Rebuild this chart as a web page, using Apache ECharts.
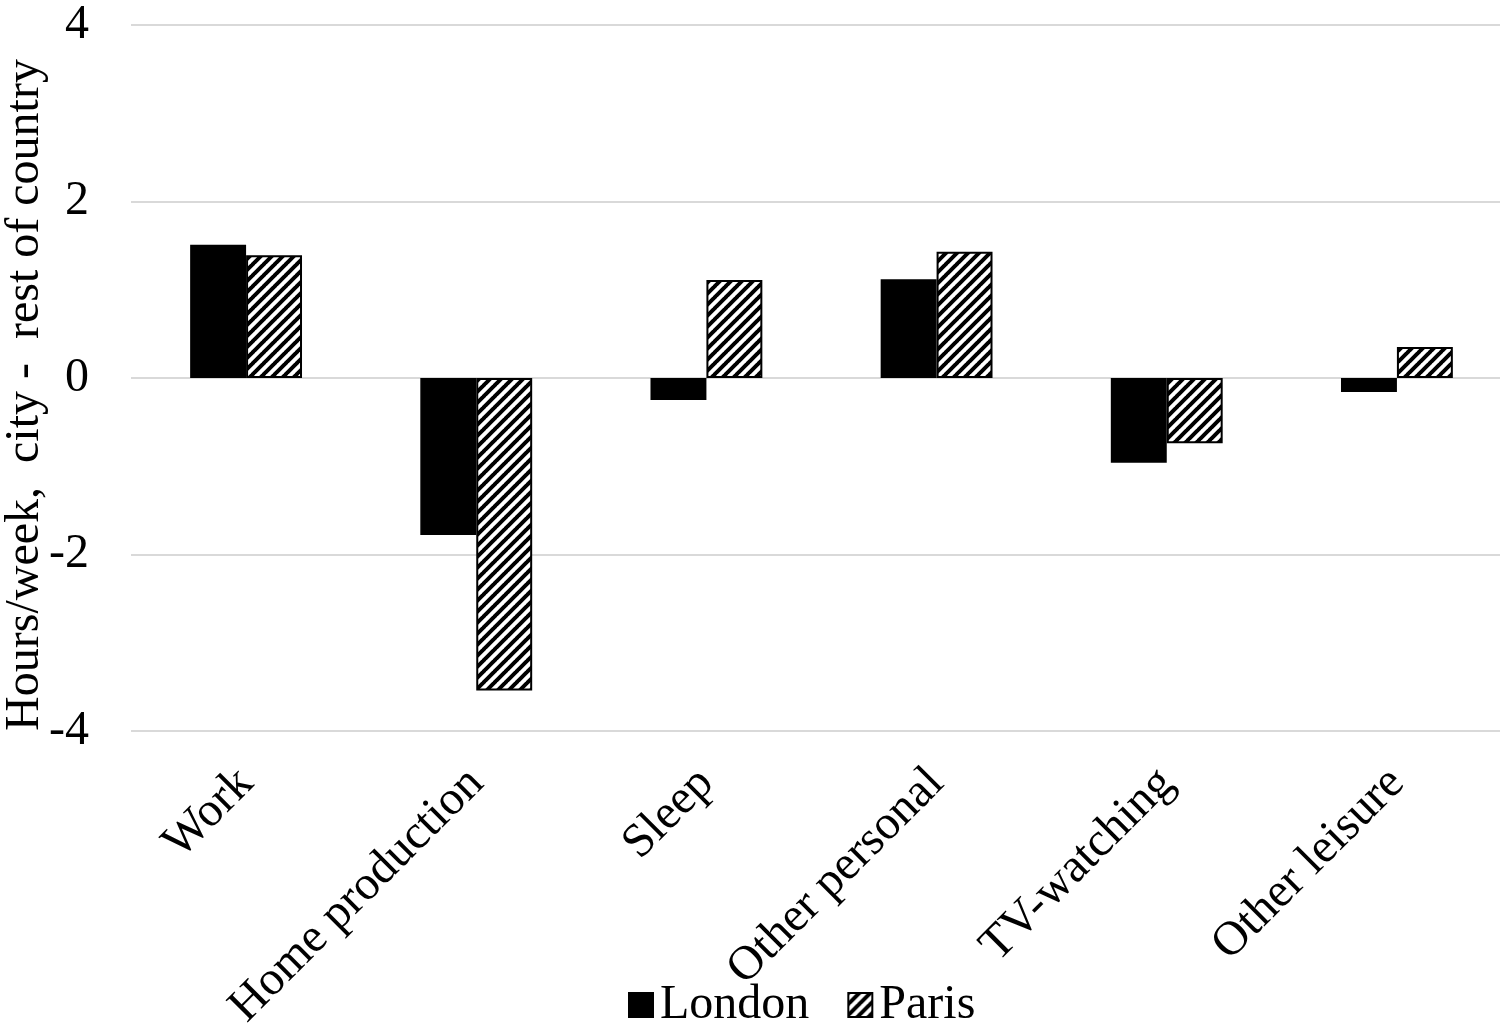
<!DOCTYPE html>
<html><head><meta charset="utf-8">
<script src="https://cdn.jsdelivr.net/npm/echarts@6/dist/echarts.min.js"></script>
<style>html,body{margin:0;padding:0;background:#fff}#c{width:1500px;height:1027px}</style>
</head><body><div id="c"></div>
<script>
const categories = ['Work','Home production','Sleep','Other personal','TV-watching','Other leisure'];
const london = [1.51, -1.78, -0.25, 1.12, -0.96, -0.16];
const paris = [1.39, -3.54, 1.11, 1.43, -0.74, 0.35];
const yTicks = [-4, -2, 0, 2, 4];

function hatch(){
  const s = 11;
  const c = document.createElement('canvas');
  c.width = s; c.height = s;
  const g = c.getContext('2d');
  g.fillStyle = '#fff'; g.fillRect(0,0,s,s);
  g.strokeStyle = '#000'; g.lineWidth = 4;
  g.beginPath();
  for (let k = -1; k <= 1; k++) {
    g.moveTo(k*s - 1, s + 1); g.lineTo(k*s + s + 1, -1);
  }
  g.stroke();
  return c;
}
const font = '"Liberation Serif","Times New Roman",serif';
const chart = echarts.init(document.getElementById('c'));
chart.setOption({
  animation: false,
  textStyle: {fontFamily: font, color: '#000'},
  grid: {left: 131, right: -12, top: 25, bottom: 296, containLabel: false, outerBoundsMode: 'none'},
  legend: {
    bottom: -7, left: 623, itemWidth: 24, itemHeight: 24, itemGap: 38,
    icon: 'rect',
    textStyle: {fontFamily: font, fontSize: 48, color: '#000', padding: [0,0,0,2]},
    data: ['London','Paris']
  },
  xAxis: {
    type: 'category', data: categories,
    axisLine: {show: false}, axisTick: {show: false},
    axisLabel: {rotate: 45, fontSize: 48, fontFamily: font, color: '#000', margin: 45, interval: 0}
  },
  yAxis: {
    type: 'value', min: -4, max: 4, interval: 2,
    name: 'Hours/week,  city -  rest of country', nameLocation: 'middle', nameGap: 82,
    nameMoveOverlap: false,
    nameTextStyle: {fontSize: 48, fontFamily: font, color: '#000', padding: [0, 34, 0, 0]},
    axisLine: {show: false}, axisTick: {show: false},
    axisLabel: {fontSize: 48, fontFamily: font, color: '#000', margin: 42,
      formatter: v => yTicks.includes(v) ? String(v) : ''},
    splitLine: {lineStyle: {color: '#d9d9d9', width: 2}}
  },
  series: [
    {name: 'London', type: 'bar', data: london, barWidth: '24.3%', barGap: '0%',
      itemStyle: {color: '#000', borderColor: '#000', borderWidth: 1.5}},
    {name: 'Paris', type: 'bar', data: paris, barWidth: '24.3%',
      itemStyle: {color: {image: hatch(), repeat: 'repeat'}, borderColor: '#000', borderWidth: 2}}
  ]
});
</script></body></html>
